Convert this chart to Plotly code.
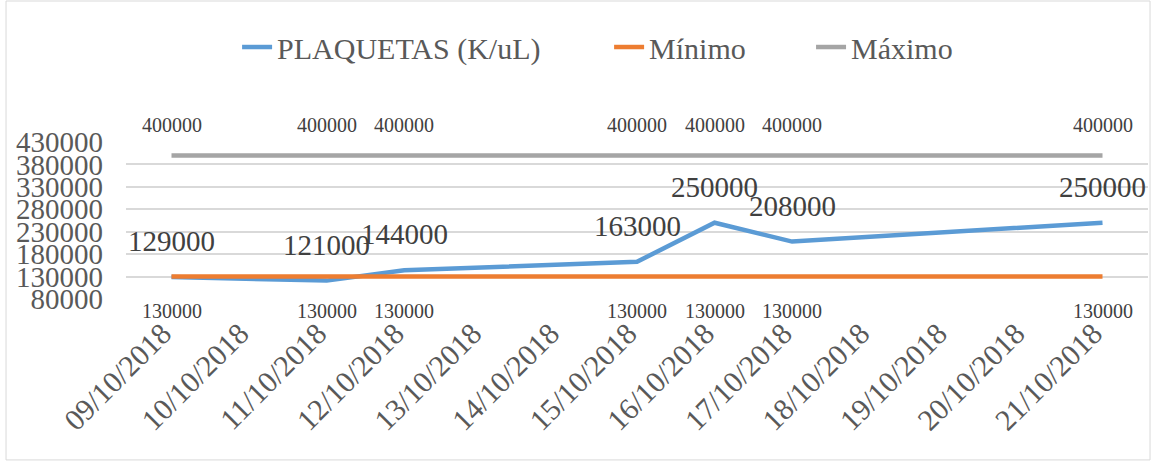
import plotly.graph_objects as go

dates = ["09/10/2018", "10/10/2018", "11/10/2018", "12/10/2018", "13/10/2018",
         "14/10/2018", "15/10/2018", "16/10/2018", "17/10/2018", "18/10/2018",
         "19/10/2018", "20/10/2018", "21/10/2018"]
plaquetas = [129000, None, 121000, 144000, None, None, 163000, 250000, 208000,
             None, None, None, 250000]
minimo = [130000, None, 130000, 130000, None, None, 130000, 130000, 130000,
          None, None, None, 130000]
maximo = [400000, None, 400000, 400000, None, None, 400000, 400000, 400000,
          None, None, None, 400000]
y_ticks = [80000, 130000, 180000, 230000, 280000, 330000, 380000, 430000]

FONT = "Liberation Serif"
C_BLUE = "#5B9BD5"
C_ORANGE = "#ED7D31"
C_GRAY = "#A5A5A5"
TXT = "#595959"

fig = go.Figure()
fig.add_trace(go.Scatter(x=dates, y=plaquetas, name="PLAQUETAS (K/uL)", mode="lines",
                         line=dict(color=C_BLUE, width=4.5), connectgaps=True,
                         legend="legend"))
fig.add_trace(go.Scatter(x=dates, y=minimo, name="Mínimo", mode="lines",
                         line=dict(color=C_ORANGE, width=4.5), connectgaps=True,
                         legend="legend2"))
fig.add_trace(go.Scatter(x=dates, y=maximo, name="Máximo", mode="lines",
                         line=dict(color=C_GRAY, width=4.5), connectgaps=True,
                         legend="legend3"))

annotations = []
for d, v in zip(dates, plaquetas):
    if v is not None:
        annotations.append(dict(x=d, y=v, text=str(v), showarrow=False, yshift=36,
                                font=dict(family=FONT, size=29, color="#404040")))
for d, v in zip(dates, maximo):
    if v is not None:
        annotations.append(dict(x=d, y=v, text=str(v), showarrow=False, yshift=30,
                                font=dict(family=FONT, size=20, color="#404040")))
for d, v in zip(dates, minimo):
    if v is not None:
        annotations.append(dict(x=d, y=v, text=str(v), showarrow=False, yshift=-34,
                                font=dict(family=FONT, size=20, color="#404040")))

leg_common = dict(orientation="h", y=1.605, yanchor="middle", xanchor="left",
                  font=dict(family=FONT, size=30, color=TXT),
                  bgcolor="rgba(0,0,0,0)", borderwidth=0)

fig.update_layout(
    width=1162, height=463,
    margin=dict(l=126, r=14, t=142, b=164),
    paper_bgcolor="white", plot_bgcolor="white",
    font=dict(family=FONT, color=TXT),
    showlegend=True,
    legend=dict(x=0.1087, **leg_common),
    legend2=dict(x=0.4727, **leg_common),
    legend3=dict(x=0.6703, **leg_common),
    annotations=annotations,
    shapes=[dict(type="rect", xref="paper", yref="paper", x0=-0.1174, x1=1.002,
                 y0=-1.025, y1=1.898, line=dict(color="#D9D9D9", width=1),
                 fillcolor="rgba(0,0,0,0)", layer="below")],
)
fig.update_xaxes(type="category", categoryorder="array", categoryarray=dates,
                 tickangle=-45, tickfont=dict(family=FONT, size=30, color=TXT),
                 showgrid=False, showline=False, zeroline=False, ticks="",
                 ticklabelstandoff=10, ticklabelshift=-9)
fig.update_yaxes(range=[80000, 430000], tickvals=y_ticks, tickformat="d",
                 tickfont=dict(family=FONT, size=29, color=TXT),
                 showgrid=True, gridcolor="#D9D9D9", gridwidth=1.5,
                 zeroline=False, showline=False, ticks="", ticklabelstandoff=22)

fig.write_html("out.html")
